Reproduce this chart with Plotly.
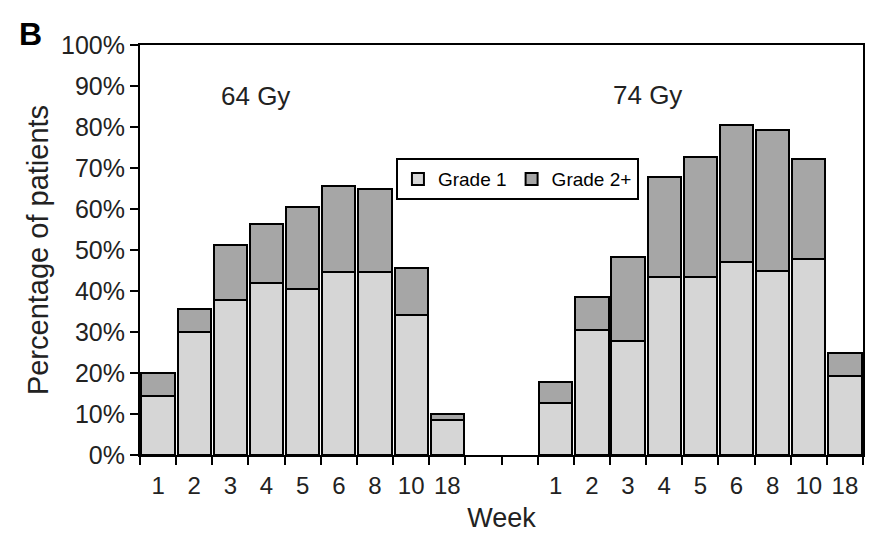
import plotly.graph_objects as go

weeks = ["1", "2", "3", "4", "5", "6", "8", "10", "18"]
grade1_64 = [14.3, 30.0, 37.7, 41.9, 40.4, 44.7, 44.7, 34.2, 8.5]
grade2_64 = [5.7, 5.6, 13.6, 14.4, 20.1, 20.9, 20.1, 11.3, 1.5]
grade1_74 = [12.7, 30.5, 27.9, 43.5, 43.5, 47.0, 44.9, 47.8, 19.2]
grade2_74 = [5.0, 8.0, 20.5, 24.3, 29.2, 33.6, 34.3, 24.3, 5.7]
y_ticks = [0, 10, 20, 30, 40, 50, 60, 70, 80, 90, 100]
dose_labels = ["64 Gy", "74 Gy"]

# slot positions: 9 weeks, 2 empty slots, 9 weeks
pos = [i + 0.5 for i in range(9)] + [i + 11.5 for i in range(9)]
labels = weeks + weeks
g1 = grade1_64 + grade1_74
g2 = grade2_64 + grade2_74

FONT = "Liberation Sans, Arial, sans-serif"
line = dict(color="black", width=2)

fig = go.Figure()
fig.add_trace(go.Bar(x=pos, y=g1, name="Grade 1", width=0.92,
                     marker=dict(color="#d6d6d6", line=line)))
fig.add_trace(go.Bar(x=pos, y=g2, name="Grade 2+", width=0.92,
                     marker=dict(color="#a6a6a6", line=line)))

fig.add_annotation(x=3.2, y=87.5, text=dose_labels[0], showarrow=False,
                   font=dict(size=26, family=FONT, color="#222"))
fig.add_annotation(x=14.05, y=87.8, text=dose_labels[1], showarrow=False,
                   font=dict(size=26, family=FONT, color="#222"))
fig.add_annotation(xref="paper", yref="paper", x=-0.151, y=1.027, text="<b>B</b>",
                   xanchor="center", yanchor="middle",
                   showarrow=False, font=dict(size=32, family=FONT, color="black"))

fig.update_layout(
    width=867, height=533,
    margin=dict(l=132, r=12, t=37, b=86),
    barmode="stack",
    plot_bgcolor="white", paper_bgcolor="white",
    font=dict(family=FONT, color="#222"),
    legend=dict(orientation="h", x=0.354, y=0.724, xanchor="left", yanchor="top",
                traceorder="normal",
                bordercolor="black", borderwidth=2, bgcolor="white",
                font=dict(size=19, family=FONT, color="black"),
                itemsizing="constant"),
    xaxis=dict(range=[0, 20], tickmode="array", tickvals=pos, ticktext=labels,
               ticks="", showline=True, linecolor="black", linewidth=2, mirror=True,
               showgrid=False, zeroline=False, automargin=False,
               ticklabelstandoff=8,
               tickfont=dict(size=24, family=FONT, color="#222"),
               minor=dict(tickmode="linear", tick0=0, dtick=1, ticks="outside",
                          ticklen=8, tickwidth=2, tickcolor="black", showgrid=False),
               title=dict(text="Week", font=dict(size=27, family=FONT, color="#222"),
                          standoff=10)),
    yaxis=dict(range=[0, 100], tickmode="array", tickvals=y_ticks,
               ticktext=[f"{v}%" for v in y_ticks], ticks="outside", ticklen=8,
               tickwidth=2, tickcolor="black",
               showline=True, linecolor="black", linewidth=2, mirror=True,
               showgrid=False, zeroline=False, automargin=False,
               tickfont=dict(size=25, family=FONT, color="#222"),
               title=dict(text="Percentage of patients",
                          font=dict(size=29, family=FONT, color="#222"), standoff=4)),
)

fig.write_html("out.html")
